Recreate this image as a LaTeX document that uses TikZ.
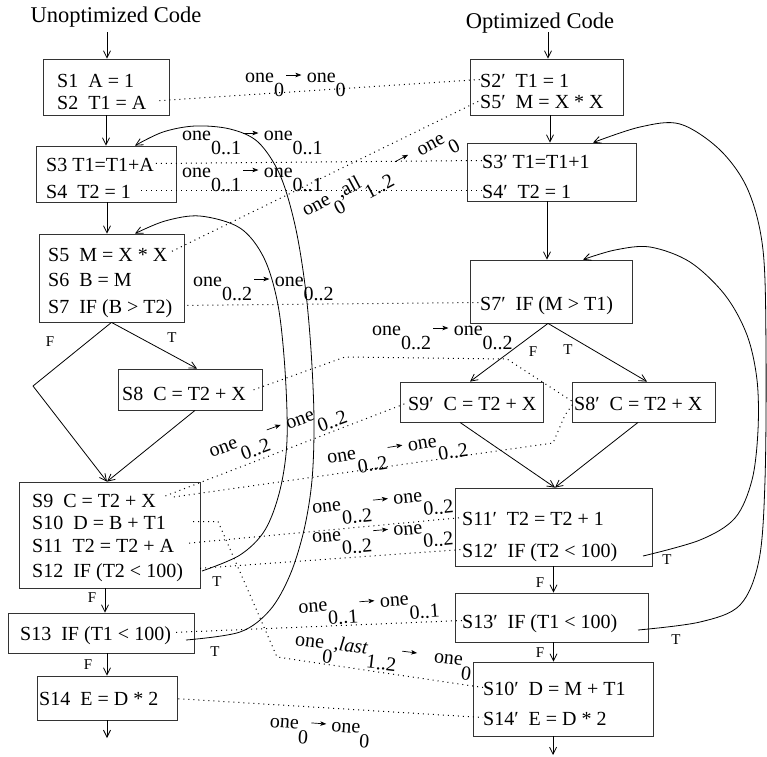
\documentclass[tikz,border=0pt]{standalone}
\usepackage{fontspec}
\setmainfont{Liberation Serif}
\usetikzlibrary{arrows.meta}
\newcommand\lsub[1]{\raisebox{-14pt}{#1}}
\newcommand\larr{\raisebox{7pt}{\tikz[baseline=0pt]\draw[line width=0.7pt,-{Stealth[length=6pt,width=4.5pt,inset=1.5pt]}] (0pt,0pt) -- (15pt,0pt);}}
\newcommand\olab[2]{one\lsub{#1}\kern2pt\larr\kern5pt one\lsub{#2}}
\tikzset{
  box/.style={draw=black!80, line width=0.8pt, inner sep=0pt},
  txt/.style={inner sep=0pt, anchor=base west, text height=15pt, text depth=0pt, font=\fontsize{20pt}{24pt}\selectfont},
  tf/.style={inner sep=0pt, font=\fontsize{15pt}{18pt}\selectfont},
  ttl/.style={inner sep=0pt, anchor=base, font=\fontsize{22.5pt}{27pt}\selectfont},
  lab/.style={inner sep=0pt, anchor=base west, font=\fontsize{20pt}{24pt}\selectfont},
  flow/.style={line width=0.8pt, -{Straight Barb[length=7pt,width=7pt]}},
  plain/.style={line width=0.8pt},
  dot/.style={line width=1pt, dash pattern=on 1pt off 4pt},
}
\begin{document}
\begin{tikzpicture}[x=1pt,y=-1pt]
\useasboundingbox (0,0) rectangle (767,756);
% titles
\node[ttl] (ttlL) at (116,22) {Unoptimized Code};
\node[ttl] (ttlR) at (540,28) {Optimized Code};
\coordinate (inL) at (107,32);
\coordinate (inR) at (548,32);
\coordinate (outL) at (107,738);
\coordinate (outR) at (553,755);
% left boxes
\node[box, minimum width=126pt, minimum height=56pt] (bA) at (106,87) {};
\node[box, minimum width=140pt, minimum height=56pt] (bB) at (106,174) {};
\node[box, minimum width=145pt, minimum height=88pt] (bC) at (111.5,278) {};
\node[box, minimum width=144pt, minimum height=41pt] (bD) at (190,389.5) {};
\node[box, minimum width=181pt, minimum height=106pt] (bE) at (109.5,535) {};
\node[box, minimum width=186pt, minimum height=40pt] (bF) at (101,633) {};
\node[box, minimum width=140pt, minimum height=44pt] (bG) at (107,698) {};
% right boxes
\node[box, minimum width=153pt, minimum height=56pt] (rA) at (546.5,87) {};
\node[box, minimum width=169pt, minimum height=58pt] (rB) at (551.5,172) {};
\node[box, minimum width=162pt, minimum height=63pt] (rC) at (551,291.5) {};
\node[box, minimum width=143pt, minimum height=40pt] (rD) at (471.5,402) {};
\node[box, minimum width=143pt, minimum height=40pt] (rE) at (643.5,402) {};
\node[box, minimum width=197pt, minimum height=78pt] (rF) at (553.5,527) {};
\node[box, minimum width=193pt, minimum height=49pt] (rG) at (551.5,617.5) {};
\node[box, minimum width=180pt, minimum height=74pt] (rH) at (563,699) {};
% left texts
\node[txt] (s1) at (57,87) {S1\ \ A = 1};
\node[txt] (s2) at (57,109) {S2\ \ T1 = A};
\node[txt] (s3) at (46,171) {S3 T1=T1+A};
\node[txt] (s4) at (46,198) {S4\ \ T2 = 1};
\node[txt] (s5) at (48,261) {S5\ \ M = X * X};
\node[txt] (s6) at (48,286) {S6\ \ B = M};
\node[txt] (s7) at (48,313) {S7\ \ IF (B > T2)};
\node[txt] (s8) at (122,400) {S8\ \ C = T2 + X};
\node[txt] (s9) at (32,507) {S9\ \ C = T2 + X};
\node[txt] (s10) at (32,529) {S10\ \ D = B + T1};
\node[txt] (s11) at (32,552) {S11\ \ T2 = T2 + A};
\node[txt] (s12) at (32,577) {S12\ \ IF (T2 < 100)};
\node[txt] (s13) at (20,640) {S13\ \ IF (T1 < 100)};
\node[txt] (s14) at (39,705) {S14\ \ E = D * 2};
% right texts
\node[txt] (p2) at (480,87) {S2′\ \ T1 = 1};
\node[txt] (p5) at (480,108) {S5′\ \ M = X * X};
\node[txt] (p3) at (482,168) {S3′ T1=T1+1};
\node[txt] (p4) at (482,198) {S4′\ \ T2 = 1};
\node[txt] (p7) at (480,310) {S7′\ \ IF (M > T1)};
\node[txt] (p9) at (408,410) {S9′\ \ C = T2 + X};
\node[txt] (p8) at (574,410) {S8′\ \ C = T2 + X};
\node[txt] (p11) at (462,525) {S11′\ \ T2 = T2 + 1};
\node[txt] (p12) at (462,557) {S12′\ \ IF (T2 < 100)};
\node[txt] (p13) at (462,628) {S13′\ \ IF (T1 < 100)};
\node[txt] (p10) at (483,695) {S10′\ \ D = M + T1};
\node[txt] (p14) at (483,725) {S14′\ \ E = D * 2};
% T/F labels
\node[tf] (fA) at (50,342) {F};
\node[tf] (tA) at (172,338) {T};
\node[tf] (fB) at (92,598) {F};
\node[tf] (tB) at (217,582) {T};
\node[tf] (tC) at (215,652) {T};
\node[tf] (fC) at (88,665) {F};
\node[tf] (fD) at (533,352) {F};
\node[tf] (tD) at (568,350) {T};
\node[tf] (tE) at (667,560) {T};
\node[tf] (fE) at (540,583) {F};
\node[tf] (tF) at (676,640) {T};
\node[tf] (fF) at (540,653) {F};
% flow, left
\draw[flow] (inL) -- (inL |- bA.north);
\draw[flow] (bA.south) -- (bB.north);
\draw[flow] ([xshift=1pt]bB.south) -- ([xshift=1pt]bB.south |- bC.north);
\coordinate (dL) at (33,386);
\coordinate (mE) at ([xshift=-2.5pt]bE.north);
\draw[plain] (bC.south) -- (dL);
\draw[flow] (dL) -- (mE);
\draw[flow] (bC.south) -- ([xshift=7pt]bD.north);
\draw[flow] ([xshift=5pt]bD.south) -- (mE);
\draw[flow] ([xshift=-4.5pt]bE.south) -- ([xshift=-4.5pt]bE.south |- bF.north);
\draw[flow] (bG.north |- bF.south) -- (bG.north);
\draw[flow] (bG.south) -- (outL);
% flow, right
\draw[flow] (inR) -- (inR |- rA.north);
\draw[flow] ([xshift=3.5pt]rA.south) -- ([xshift=3.5pt]rA.south |- rB.north);
\draw[flow] ([xshift=-4pt]rC.north |- rB.south) -- ([xshift=-4pt]rC.north);
\draw[flow] ([xshift=-3pt]rC.south) -- ([xshift=-1.5pt]rD.north);
\draw[flow] ([xshift=-3pt]rC.south) -- ([xshift=3.5pt]rE.north);
\coordinate (mF) at ([xshift=1.5pt]rF.north);
\draw[flow] ([xshift=-11.5pt]rD.south) -- (mF);
\draw[flow] ([xshift=-5.5pt]rE.south) -- (mF);
\draw[flow] (rF.south) -- (rF.south |- rG.north);
\draw[flow] (rF.south |- rG.south) -- (rF.south |- rH.north);
\draw[flow] ([xshift=-10pt]rH.south) -- (outR);
% loop-back curves
\coordinate (cA) at (202,571);
\coordinate (eA) at ([xshift=23.5pt]bC.north);
\coordinate (cB) at (186,640);
\coordinate (eB) at ([xshift=29pt]bB.north);
\coordinate (cF) at (643,556);
\coordinate (eF) at ([xshift=32pt]rC.north);
\coordinate (cG) at (638,630);
\coordinate (eG) at ([xshift=41.5pt]rB.north);
\draw[flow] plot[smooth, tension=0.55] coordinates {(cA) (240,555) (265,530) (280,490) (287,440) (285,370) (278,305) (264,258) (240,228) (200,216) (165,221) (eA)};
\draw[flow] plot[smooth, tension=0.55] coordinates {(cB) (240,632) (270,610) (290,575) (304,530) (312,480) (314,420) (311,350) (305,285) (295,225) (280,175) (258,142) (230,129) (195,126) (163,132) (eB)};
\draw[flow] plot[smooth, tension=0.55] coordinates {(cF) (700,540) (735,518) (752,480) (758,430) (757,380) (747,335) (725,295) (690,262) (650,247) (615,250) (eF)};
\draw[flow] plot[smooth, tension=0.55] coordinates {(cG) (700,622) (740,605) (759,560) (765,480) (766,350) (763,250) (748,190) (720,150) (680,124) (640,127) (eG)};
% correspondence lines
\coordinate (k8a) at (345,357);
\coordinate (k8b) at (507,359);
\coordinate (k9a) at (553,443);
\coordinate (k9b) at (565,415);
\coordinate (k10a) at (218,521.5);
\coordinate (k10b) at (277,657);
\draw[dot, shorten <=13pt] (s2.east) -- (p2.west);
\draw[dot, shorten <=2pt] (s3.east) -- (p3.west);
\draw[dot, shorten <=10pt] (s4.east) -- (p4.west);
\draw[dot, shorten <=5pt] (s5.east) -- (p5.west);
\draw[dot, shorten <=15pt] (s7.east) -- (p7.west);
\draw[dot, shorten <=8pt] (s8.east) -- (k8a) -- (k8b) -- (p8.west);
\draw[dot, shorten <=10pt] (s9.east) -- (p9.west);
\draw[dot, shorten <=18pt] (s9.east) -- (k9a) -- (k9b) -- (p8.west);
\draw[dot, shorten <=27pt] (s10.east) -- (k10a) -- (k10b) -- (p10.west);
\draw[dot, shorten <=15pt] (s11.east) -- (p11.west);
\draw[dot, shorten <=17pt] (s12.east) -- (p12.west);
\draw[dot, shorten <=5pt] (s13.east) -- (p13.west);
\draw[dot, shorten <=20pt] (s14.east) -- (p14.west);
% correspondence labels
\node[lab] (l1) at (245,82) {\olab{0}{0}};
\node[lab] (l2) at (182,140) {\olab{0..1}{0..1}};
\node[lab] (l3) at (182,177) {\olab{0..1}{0..1}};
\node[lab, rotate=28] (l4) at (306,217) {one\lsub{0},all\lsub{1..2}\kern10pt\larr\kern10pt one\lsub{0}};
\node[lab] (l5) at (193,286) {\olab{0..2}{0..2}};
\node[lab] (l6) at (372,335) {\olab{0..2}{0..2}};
\node[lab, rotate=20] (l7) at (211.5,457.5) {\olab{0..2}{0..2}};
\node[lab, rotate=9] (l8) at (328,464) {\olab{0..2}{0..2}};
\node[lab, rotate=6] (l9) at (312.6,513.5) {\olab{0..2}{0..2}};
\node[lab, rotate=5] (l10) at (312.5,543) {\olab{0..2}{0..2}};
\node[lab, rotate=4] (l11) at (298.7,613) {\olab{0..1}{0..1}};
\node[lab, rotate=-7] (l12) at (294.5,645) {one\lsub{0},\textit{last}\lsub{1..2}\kern4pt\larr\kern17pt one\lsub{0}};
\node[lab, rotate=-4] (l13) at (269.5,727) {\olab{0}{0}};
\end{tikzpicture}
\end{document}
